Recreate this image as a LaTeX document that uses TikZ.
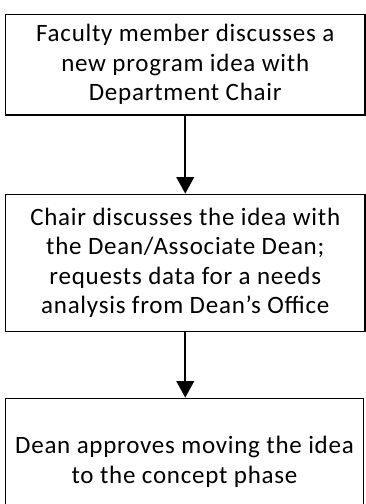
\documentclass[tikz,border=0pt]{standalone}
\usepackage{fontspec}
\setmainfont{Carlito}[LetterSpace=3]
\usetikzlibrary{arrows.meta}
\tikzset{
  stepbox/.style={draw=black, line width=1.8pt, fill=white, align=center,
    inner sep=0pt, font=\fontsize{25}{29.5}\selectfont},
  flow/.style={line width=1.8pt, -{Triangle[length=16.6pt, width=17.7pt]}}
}
\begin{document}
\begin{tikzpicture}[x=1pt, y=-1pt]
\clip (0,0) rectangle (366,504);
\fill[white] (0,0) rectangle (366,504);
\node[stepbox, minimum width=359.5pt, minimum height=100.5pt] (a) at (185.25,64.75)
  {Faculty member discusses a\\new program idea with\\Department Chair};
\node[stepbox, minimum width=359.5pt, minimum height=137pt] (b) at (185.25,263)
  {Chair discusses the idea with\\the Dean/Associate Dean;\\requests data for a needs\\analysis from Dean’s Office};
\node[stepbox, minimum width=358pt, minimum height=127pt] (c) at (184.5,462)
  {Dean approves moving the idea\\to the concept phase};
\draw[flow] (a.south) -- (b.north);
\draw[flow] (b.south) -- (b.south |- c.north);
\end{tikzpicture}
\end{document}
